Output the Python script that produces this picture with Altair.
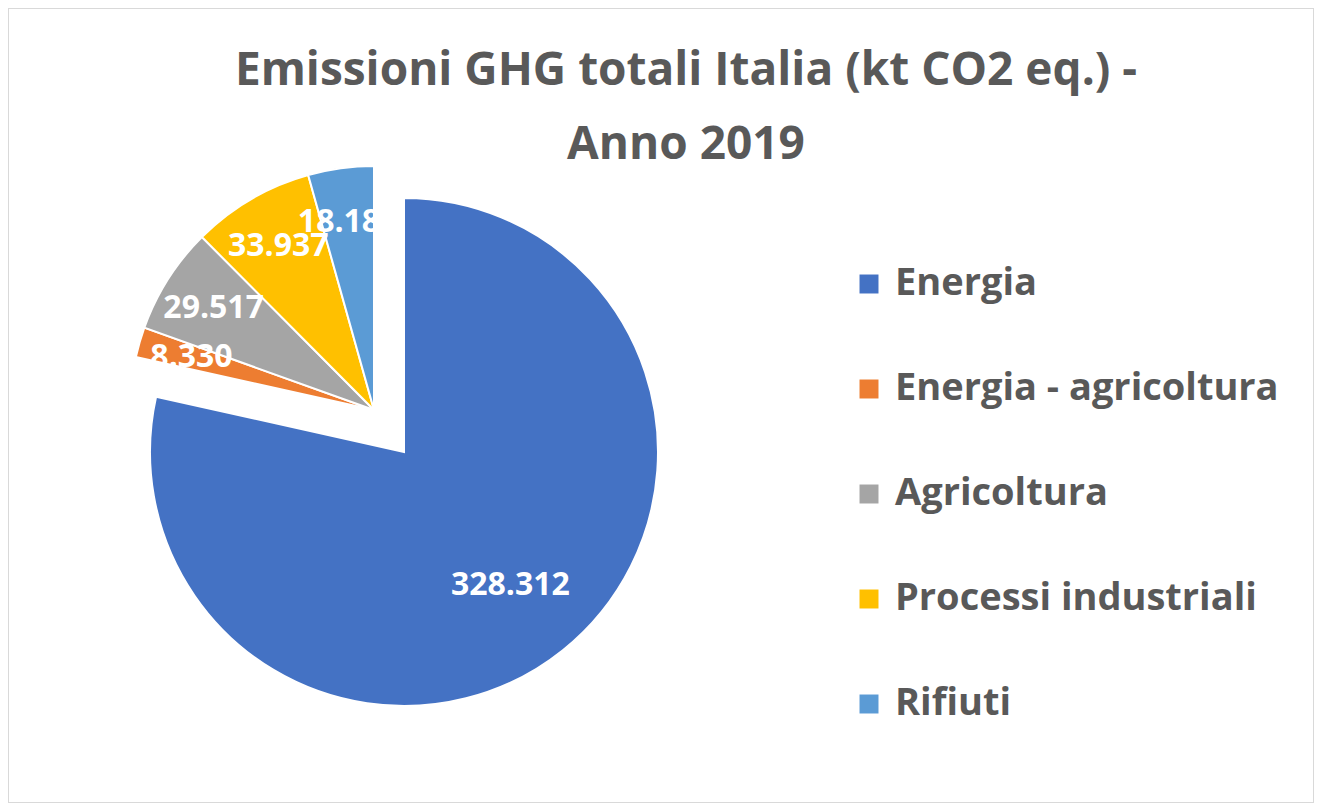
import altair as alt
import pandas as pd

categorie = ["Energia", "Energia - agricoltura", "Agricoltura", "Processi industriali", "Rifiuti"]
valori = [328312, 8330, 29517, 33937, 18184]
etichette = ["328.312", "8.330", "29.517", "33.937", "18.184"]
colori = ["#4472C4", "#ED7D31", "#A5A5A5", "#FFC000", "#5B9BD5"]
titolo = ["Emissioni GHG totali Italia (kt CO2 eq.) -", "Anno 2019"]

df = pd.DataFrame({
    "categoria": categorie,
    "valore": valori,
    "etichetta": etichette,
    "ordine": list(range(len(categorie))),
})

FONT = "Open Sans"

base = (
    alt.Chart(df)
    .transform_window(cum="sum(valore)", sort=[alt.SortField("ordine", order="ascending")], frame=[None, 0])
    .transform_joinaggregate(tot="sum(valore)")
    .transform_calculate(
        t0="(datum.cum - datum.valore) / datum.tot * 2 * PI",
        t1="datum.cum / datum.tot * 2 * PI",
        tm="(datum.cum - datum.valore / 2) / datum.tot * 2 * PI",
        main="datum.categoria == 'Energia' ? 1 : 0",
    )
    # explode: non-main slices share a shifted apex (style / layout only)
    .transform_calculate(
        cx="datum.main ? 396 : 366",
        cy="datum.main ? 444 : 402",
        r="datum.main ? 254 : 244",
        rl="datum.main ? 170 : 190",
    )
    .encode(
        x=alt.X("cx:Q", scale=None, axis=None),
        y=alt.Y("cy:Q", scale=None, axis=None),
    )
)

arcs = base.mark_arc(stroke="white", strokeWidth=2).encode(
    theta=alt.Theta("t0:Q", scale=None),
    theta2="t1:Q",
    radius=alt.Radius("r:Q", scale=None),
    color=alt.Color(
        "categoria:N",
        scale=alt.Scale(domain=categorie, range=colori),
        sort=categorie,
        legend=alt.Legend(
            title=None,
            orient="none",
            legendX=842,
            legendY=257,
            padding=0,
            symbolType="square",
            symbolSize=360,
            symbolStrokeWidth=0,
            symbolOpacity=1,
            labelFont=FONT,
            labelFontSize=38,
            labelFontWeight="bold",
            labelColor="#595959",
            labelOffset=7,
            rowPadding=67,
            labelLimit=500,
        ),
    ),
)

labels = base.mark_text(
    font=FONT, fontSize=32, fontWeight="bold", color="white"
).encode(
    theta=alt.Theta("tm:Q", scale=None),
    radius=alt.Radius("rl:Q", scale=None),
    text="etichetta:N",
)

chart = (
    alt.layer(arcs, labels)
    .properties(
        width=1306,
        height=795,
        autosize=alt.AutoSizeParams(type="none"),
        padding=0,
        title=alt.TitleParams(
            text=titolo,
            font=FONT,
            fontSize=46,
            fontWeight="bold",
            color="#595959",
            lineHeight=74,
            anchor="middle",
            frame="group",
            dx=25,
            dy=165,
        ),
    )
    .configure_view(stroke="#d9d9d9", strokeWidth=2)
)

chart.save("out.html", embed_options={"renderer": "svg", "actions": False})
